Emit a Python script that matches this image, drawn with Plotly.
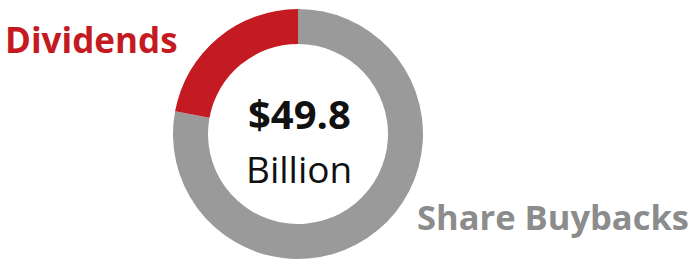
import plotly.graph_objects as go

labels = ["Share Buybacks", "Dividends"]
values = [38.8, 11.0]
colors = ["#9a9a9a", "#c41a21"]
total_text = "$49.8"
unit_text = "Billion"

W, H = 694, 263
cx, cy, r = 298, 134, 125

fig = go.Figure(go.Pie(
    labels=labels, values=values, hole=0.72, sort=False,
    direction="clockwise", rotation=0,
    marker=dict(colors=colors, line=dict(width=0)),
    textinfo="none", hoverinfo="label+value", showlegend=False,
    domain=dict(x=[(cx - r) / W, (cx + r) / W], y=[(H - cy - r) / H, (H - cy + r) / H]),
))

def ann(text, px, py, size, color, bold, xanchor, yanchor="middle"):
    fig.add_annotation(
        x=px / W, y=1 - py / H, xref="paper", yref="paper",
        text=f"<b>{text}</b>" if bold else text, showarrow=False,
        xanchor=xanchor, yanchor=yanchor, borderpad=0,
        font=dict(family="Open Sans", size=size, color=color),
    )

ann("Dividends", 4, 40, 35, "#c41a21", True, "left")
ann("Share Buybacks", 690, 216, 34.5, "#8c8c8c", True, "right")
ann(total_text, cx + 1, 142, 40, "#111111", True, "center", "bottom")
ann(unit_text, cx + 1, 142, 37, "#111111", False, "center", "top")

fig.update_layout(width=W, height=H, margin=dict(l=0, r=0, t=0, b=0),
                  paper_bgcolor="white", plot_bgcolor="white")
fig.write_html("out.html", config={"displayModeBar": False},
               post_script="document.body.style.margin='0';")
